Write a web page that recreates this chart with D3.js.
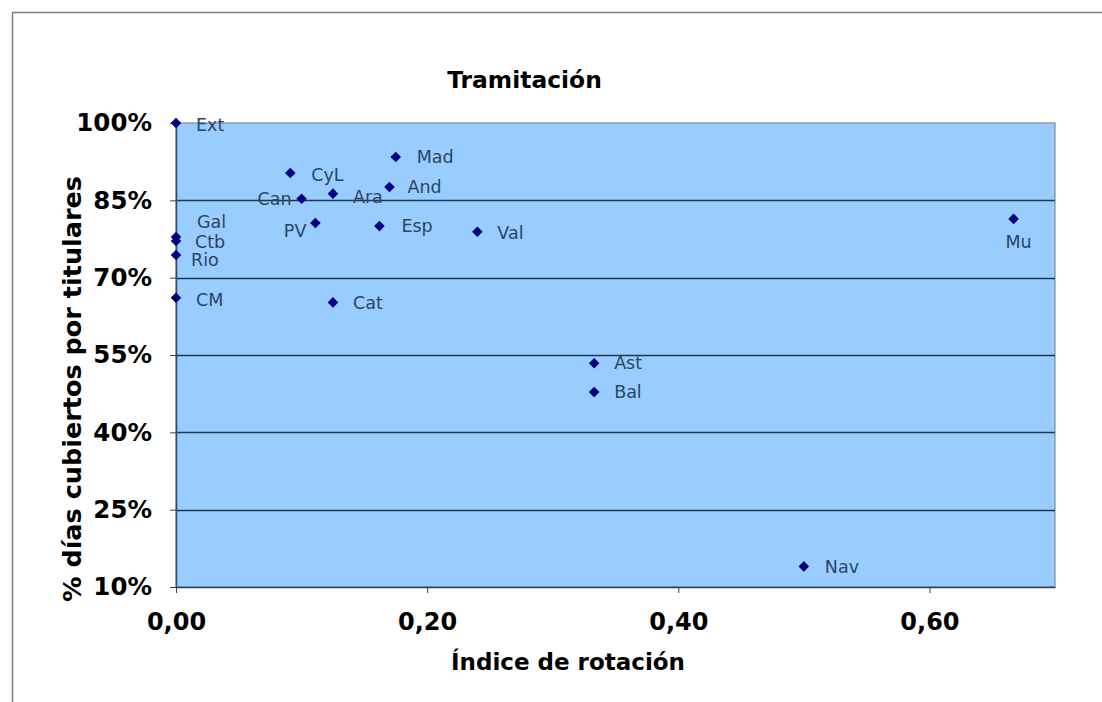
<!DOCTYPE html>
<html>
<head>
<meta charset="utf-8">
<script src="https://cdn.jsdelivr.net/npm/d3@7"></script>
<style>
  html, body { margin: 0; padding: 0; background: #ffffff; }
  svg { display: block; }
</style>
</head>
<body>
<svg id="chart" width="1102" height="702"></svg>
<script>
// ---- data ----
const regions = ["Ext","Mad","CyL","And","Ara","Can","PV","Esp","Val","Mu","Gal","Ctb","Rio","CM","Cat","Ast","Bal","Nav"];
const rotationIndex = [0.000,0.175,0.091,0.170,0.125,0.100,0.111,0.162,0.240,0.667,0.000,0.000,0.000,0.000,0.125,0.333,0.333,0.500];
const coveredDays   = [1.000,0.934,0.903,0.876,0.863,0.853,0.806,0.800,0.789,0.814,0.779,0.771,0.744,0.661,0.652,0.534,0.478,0.140];
const yTicks = [0.10,0.25,0.40,0.55,0.70,0.85,1.00];
const xTicks = [0.00,0.20,0.40,0.60];
const chartTitle = "Tramitación";
const xTitle = "Índice de rotación";
const yTitle = "% días cubiertos por titulares";

// ---- label placement (layout, px offsets from the marker) ----
const labelPlacement = {
  Ext:{dx:20,dy:2,anchor:"start"}, Mad:{dx:21,dy:0,anchor:"start"}, CyL:{dx:21,dy:2,anchor:"start"},
  And:{dx:18,dy:0,anchor:"start"}, Ara:{dx:20,dy:3,anchor:"start"}, Can:{dx:-10,dy:0,anchor:"end"},
  PV:{dx:-9,dy:8,anchor:"end"}, Esp:{dx:22,dy:0,anchor:"start"}, Val:{dx:20,dy:1,anchor:"start"},
  Mu:{dx:5,dy:23,anchor:"middle"}, Gal:{dx:21,dy:-15,anchor:"start"}, Ctb:{dx:19,dy:1,anchor:"start"},
  Rio:{dx:15,dy:5,anchor:"start"}, CM:{dx:20,dy:2,anchor:"start"}, Cat:{dx:20,dy:0,anchor:"start"},
  Ast:{dx:20,dy:0,anchor:"start"}, Bal:{dx:20,dy:0,anchor:"start"}, Nav:{dx:21,dy:0,anchor:"start"}
};

const points = regions.map((r,i)=>({name:r, x:rotationIndex[i], y:coveredDays[i]}));

const svg = d3.select("#chart");
const W = 1102, H = 702;
const plot = {left:176, right:1055, top:123, bottom:587};
const FONT = "DejaVu Sans, Verdana, sans-serif";

const x = d3.scaleLinear().domain([0,0.7]).range([plot.left, plot.right]);
const y = d3.scaleLinear().domain([0.10,1.00]).range([plot.bottom, plot.top]);

const loc = d3.formatLocale({decimal:",", thousands:".", grouping:[3], currency:["","€"]});
const fx = loc.format(".2f");
const fy = d3.format(".0%");

// outer frame (top + left edges visible)
svg.append("line").attr("x1",12).attr("x2",W).attr("y1",12.5).attr("y2",12.5).attr("stroke","#7f7f7f").attr("stroke-width",1.5);
svg.append("line").attr("x1",12.5).attr("x2",12.5).attr("y1",12).attr("y2",H).attr("stroke","#7f7f7f").attr("stroke-width",1.5);

// plot background
svg.append("rect")
  .attr("x",plot.left).attr("y",plot.top)
  .attr("width",plot.right-plot.left).attr("height",plot.bottom-plot.top)
  .attr("fill","#99ccff").attr("stroke","#8a8a8a").attr("stroke-width",1.2);

// gridlines
svg.append("g").selectAll("line").data(yTicks.filter(t=>t>0.1 && t<1)).join("line")
  .attr("x1",plot.left).attr("x2",plot.right)
  .attr("y1",d=>Math.round(y(d))+0.5).attr("y2",d=>Math.round(y(d))+0.5)
  .attr("stroke","#1f3550").attr("stroke-width",1.3);

// axes
const yAxis = d3.axisLeft(y).tickValues(yTicks).tickFormat(fy).tickSize(6).tickSizeOuter(0).tickPadding(18);
const gy = svg.append("g").attr("transform",`translate(${plot.left},0)`).call(yAxis);
gy.select(".domain").attr("stroke","#2a4a78").attr("stroke-width",1.5);
gy.selectAll(".tick line").attr("stroke","#404040");
gy.selectAll("text").attr("font-family",FONT).attr("font-weight","bold")
  .attr("font-size",24.5).attr("fill","#000");

const xAxis = d3.axisBottom(x).tickValues(xTicks).tickFormat(fx).tickSize(6).tickSizeOuter(0).tickPadding(20);
const gx = svg.append("g").attr("transform",`translate(0,${plot.bottom})`).call(xAxis);
gx.select(".domain").attr("stroke","#2a3f5a").attr("stroke-width",1.3);
gx.selectAll(".tick line").attr("stroke","#404040");
gx.selectAll("text").attr("font-family",FONT).attr("font-weight","bold")
  .attr("font-size",24).attr("fill","#000");

// titles
svg.append("text").attr("x",524.5).attr("y",88).attr("text-anchor","middle")
  .attr("font-family",FONT).attr("font-weight","bold")
  .attr("font-size",23.4).attr("fill","#000").text(chartTitle);
svg.append("text").attr("x",568).attr("y",670).attr("text-anchor","middle")
  .attr("font-family",FONT).attr("font-weight","bold")
  .attr("font-size",23).attr("fill","#000").text(xTitle);
svg.append("text").attr("transform","translate(81,389) rotate(-90)").attr("text-anchor","middle")
  .attr("font-family",FONT).attr("font-weight","bold")
  .attr("font-size",25.5).attr("fill","#000").text(yTitle);

// markers
const diamond = d3.symbol().type(d3.symbolSquare).size(56);
svg.append("g").selectAll("path").data(points).join("path")
  .attr("d",diamond)
  .attr("transform",d=>`translate(${x(d.x)},${y(d.y)}) rotate(45)`)
  .attr("fill","#000080");

// labels
svg.append("g").selectAll("text").data(points).join("text")
  .attr("x",d=>x(d.x)+labelPlacement[d.name].dx)
  .attr("y",d=>y(d.y)+labelPlacement[d.name].dy)
  .attr("dy","0.35em")
  .attr("text-anchor",d=>labelPlacement[d.name].anchor)
  .attr("font-family",FONT)
  .attr("font-size",17.5).attr("fill","#2b4566")
  .text(d=>d.name);
</script>
</body>
</html>
